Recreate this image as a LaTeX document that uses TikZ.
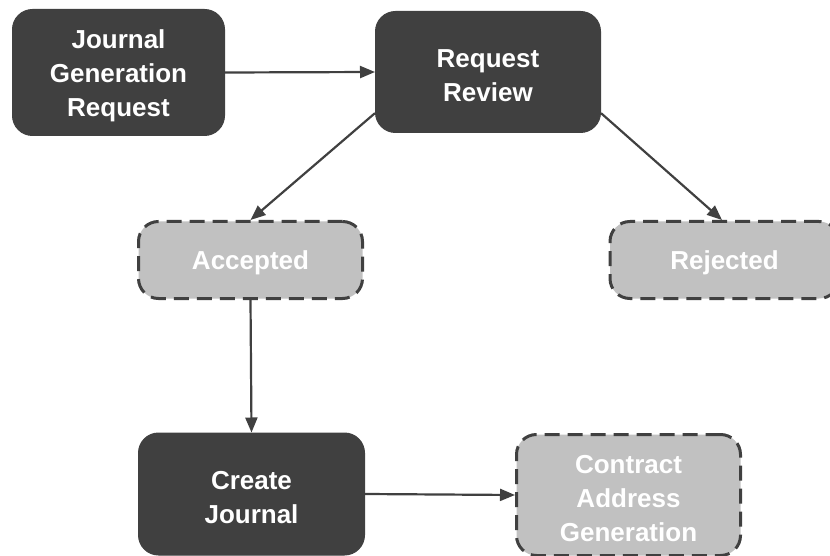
\documentclass[tikz,border=0pt]{standalone}
\usepackage{fontspec}
\setmainfont{Liberation Sans}
\usetikzlibrary{arrows.meta}
\definecolor{boxdark}{HTML}{404040}
\definecolor{boxlight}{HTML}{C1C1C1}
% invisible strut that lowers the first text line a little
\newcommand\padtop{\rule{0pt}{25pt}}
\tikzset{
  stepbase/.style={rounded corners=20pt, minimum width=#1, text=white, align=center,
    inner sep=0pt, font=\fontsize{26}{34}\selectfont\bfseries},
  stepdark/.style={stepbase=#1, fill=boxdark, draw=boxdark, line width=1pt},
  steplight/.style={stepbase=#1, fill=boxlight, draw=boxdark, line width=3pt,
    dash pattern=on 15pt off 8pt},
  flow/.style={draw=boxdark, line width=2.2pt, -{Triangle[length=15pt,width=12pt]}}
}
\begin{document}
\begin{tikzpicture}[x=1pt,y=-1pt]
  \useasboundingbox (0,0) rectangle (830,556);
  \clip (0,0) rectangle (830,556);
  \node[stepdark=212pt, minimum height=126pt] (jgr) at (118.5,72.5) {\padtop Journal\\Generation\\Request};
  \node[stepdark=225pt, minimum height=121pt] (rr) at (488,72) {\padtop Request\\Review};
  \node[steplight=224pt, minimum height=77pt] (acc) at (250.5,260) {\padtop Accepted};
  \node[steplight=229pt, minimum height=77pt] (rej) at (724.5,260) {\padtop Rejected};
  \node[stepdark=226pt, minimum height=122pt] (cj) at (251.5,494) {\padtop Create\\Journal};
  \node[steplight=224pt, minimum height=121pt] (cag) at (628.5,495) {\padtop Contract\\Address\\Generation};

  \draw[flow] (jgr.east) -- (rr.west);
  \draw[flow] (rr.200) -- (acc.north);
  \draw[flow] (rr.340) -- (rej.north -| 722,0);
  \draw[flow] (acc.south) -- (cj.north);
  \draw[flow] (cj.east) -- (cag.west);
\end{tikzpicture}
\end{document}
